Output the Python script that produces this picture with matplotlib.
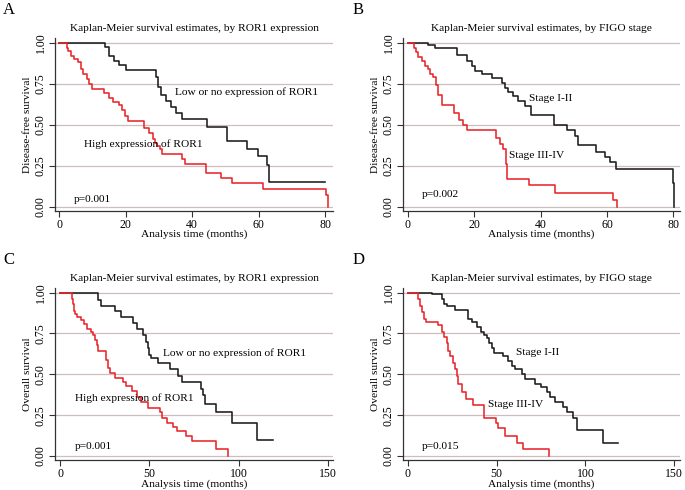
import matplotlib
matplotlib.use("Agg")
import matplotlib.pyplot as plt

plt.rcParams["font.family"] = ["Liberation Serif", "DejaVu Serif"]

# ---- data (Kaplan-Meier step points: time in months, survival) ----
# A: disease-free survival by ROR1 expression
a_low_t = [0, 13.9, 15.0, 16.5, 18.0, 20.0, 29.2, 29.8, 30.5, 32.0, 33.5, 35.0, 36.8, 44.4, 50.6, 56.4, 59.9, 62.5, 63.2, 80.0]
a_low_s = [1.0, 0.975, 0.92, 0.89, 0.865, 0.833, 0.793, 0.728, 0.681, 0.644, 0.606, 0.569, 0.533, 0.484, 0.398, 0.353, 0.306, 0.255, 0.153, 0.153]
a_high_t = [0, 2.2, 2.7, 3.4, 4.4, 5.7, 6.5, 7.2, 8.2, 9.0, 9.8, 13.5, 15.0, 16.3, 18.0, 18.8, 19.8, 20.6, 25.6,
            27.0, 28.1, 28.8, 29.5, 30.3, 31.0, 37.0, 37.8, 44.1, 48.6, 51.9, 61.4, 80.3, 80.8]
a_high_s = [1.0, 0.97, 0.95, 0.92, 0.90, 0.88, 0.84, 0.81, 0.78, 0.75, 0.72, 0.69, 0.66, 0.64, 0.62, 0.59, 0.55, 0.52, 0.48,
            0.45, 0.41, 0.39, 0.37, 0.35, 0.32, 0.29, 0.26, 0.205, 0.175, 0.144, 0.11, 0.073, 0.0]

# B: disease-free survival by FIGO stage
b_early_t = [0, 6.2, 8.2, 14.8, 17.8, 19.3, 20.3, 22.3, 25.3, 28.3, 29.3, 30.3, 31.8, 33.3, 35.3, 37.0,
             44.1, 48.1, 50.4, 51.4, 56.6, 59.4, 61.0, 62.7, 80.0, 80.3]
b_early_s = [1.0, 0.985, 0.967, 0.927, 0.886, 0.855, 0.825, 0.81, 0.784, 0.754, 0.723, 0.699, 0.672, 0.642, 0.611, 0.56,
             0.495, 0.468, 0.428, 0.373, 0.336, 0.305, 0.275, 0.228, 0.143, 0.0]
b_late_t = [0, 1.9, 2.5, 3.2, 4.2, 5.2, 6.0, 6.7, 7.7, 8.4, 9.2, 10.2, 14.0, 15.3, 16.6, 18.0, 19.8,
            26.6, 27.8, 28.8, 29.6, 30.0, 36.6, 44.4, 61.9, 63.0]
b_late_s = [1.0, 0.97, 0.94, 0.91, 0.89, 0.86, 0.84, 0.81, 0.79, 0.74, 0.68, 0.62, 0.57, 0.53, 0.50, 0.465, 0.465,
            0.42, 0.38, 0.35, 0.26, 0.17, 0.13, 0.085, 0.04, 0.0]

# C: overall survival by ROR1 expression
c_low_t = [0, 21.5, 23.0, 31.0, 34.0, 41.0, 43.0, 46.5, 48.0, 49.0, 50.0, 51.0, 55.0, 61.5, 66.0, 68.0,
           79.0, 80.0, 81.0, 87.0, 96.0, 110.0, 119.0]
c_low_s = [1.0, 0.955, 0.92, 0.885, 0.85, 0.815, 0.78, 0.74, 0.70, 0.66, 0.62, 0.60, 0.57, 0.53, 0.49, 0.454,
           0.413, 0.373, 0.32, 0.271, 0.20, 0.098, 0.098]
c_high_t = [0, 6.5, 7.5, 8.0, 8.6, 9.7, 11.7, 13.6, 15.3, 17.1, 18.6, 19.6, 20.5, 21.4, 25.7, 26.6, 27.9, 30.7,
            35.0, 36.9, 40.1, 42.9, 45.0, 49.4, 55.9, 56.8, 59.6, 63.4, 65.2, 70.2, 73.6, 87.0, 93.7]
c_high_s = [1.0, 0.96, 0.93, 0.89, 0.87, 0.85, 0.83, 0.81, 0.78, 0.76, 0.74, 0.71, 0.68, 0.64, 0.59, 0.54, 0.505, 0.48,
            0.455, 0.43, 0.40, 0.36, 0.33, 0.295, 0.27, 0.23, 0.20, 0.175, 0.15, 0.12, 0.09, 0.045, 0.0]

# D: overall survival by FIGO stage
d_early_t = [0, 13.5, 19.1, 20.5, 21.9, 26.6, 34.1, 36.0, 38.8, 41.0, 43.1, 44.5, 46.0, 47.5, 48.5, 53.8, 56.5,
             58.5, 60.5, 64.1, 66.0, 71.6, 75.0, 78.2, 80.0, 82.8, 87.5, 89.4, 93.1, 95.0, 110.0, 118.4]
d_early_s = [1.0, 0.99, 0.96, 0.93, 0.915, 0.895, 0.84, 0.82, 0.79, 0.76, 0.74, 0.72, 0.69, 0.66, 0.63, 0.61, 0.58,
             0.55, 0.53, 0.50, 0.47, 0.44, 0.42, 0.39, 0.36, 0.33, 0.30, 0.27, 0.23, 0.16, 0.08, 0.08]
d_late_t = [0, 6.0, 7.0, 8.0, 9.0, 10.5, 17.2, 19.1, 20.6, 21.9, 22.8, 23.8, 25.7, 26.6, 27.5, 28.5, 30.4, 32.6,
            36.9, 43.0, 49.5, 51.0, 54.7, 61.3, 65.0, 79.5]
d_late_s = [1.0, 0.96, 0.92, 0.88, 0.84, 0.82, 0.80, 0.76, 0.73, 0.69, 0.64, 0.61, 0.57, 0.53, 0.49, 0.44, 0.39, 0.35,
            0.31, 0.23, 0.20, 0.17, 0.12, 0.08, 0.045, 0.0]

y_ticks = [0.0, 0.25, 0.5, 0.75, 1.0]
y_ticklabels = ["0.00", "0.25", "0.50", "0.75", "1.00"]

W, H = 685, 490
RED = "#e8262b"
BLACK = "#1c1c1c"
GRID = "#cdbdbd"
FS = 8.2
TFS = 8.5

fig = plt.figure(figsize=(W / 100, H / 100), dpi=100)


def make_axes(l, r, t, b):
    return fig.add_axes([l / W, 1 - b / H, (r - l) / W, (b - t) / H])


def draw_panel(ax, title, ylabel, xlim, xticks, curves, notes, pval):
    for y in y_ticks:
        ax.axhline(y, color=GRID, lw=0.9, zorder=1)
    for (t, s, c) in curves:
        ax.step(t, s, where="post", color=c, lw=1.15, zorder=3)
    ax.set_xlim(*xlim)
    ax.set_ylim(-0.0244, 1.028)
    ax.set_xticks(xticks)
    ax.set_xticklabels([str(v) for v in xticks], fontsize=TFS)
    ax.set_yticks(y_ticks)
    ax.set_yticklabels(y_ticklabels, fontsize=TFS, rotation=90, va="center")
    for s in ["top", "right"]:
        ax.spines[s].set_visible(False)
    for s in ["left", "bottom"]:
        ax.spines[s].set_color("#333333")
        ax.spines[s].set_linewidth(0.9)
    ax.tick_params(length=4, width=0.8, color="#333333", pad=2)
    ax.set_xlabel("Analysis time (months)", fontsize=FS, labelpad=-1)
    ax.set_ylabel(ylabel, fontsize=FS, labelpad=2)
    ax.set_title(title, fontsize=FS, pad=5)
    for (x, y, txt) in notes:
        ax.text(x, y, txt, fontsize=FS, va="center", ha="left", zorder=4)
    ax.text(pval[0], pval[1], pval[2], fontsize=FS, va="center", ha="left")


axA = make_axes(55, 333, 38, 210.7)
draw_panel(axA, "Kaplan-Meier survival estimates, by ROR1 expression", "Disease-free survival",
           (-1.3, 82.4), [0, 20, 40, 60, 80],
           [(a_low_t, a_low_s, BLACK), (a_high_t, a_high_s, RED)],
           [(34.8, 0.70, "Low or no expression of ROR1"), (7.5, 0.38, "High expression of ROR1")],
           (4.4, 0.045, "p=0.001"))

axB = make_axes(403.3, 680, 38, 210.7)
draw_panel(axB, "Kaplan-Meier survival estimates, by FIGO stage", "Disease-free survival",
           (-1.33, 82.0), [0, 20, 40, 60, 80],
           [(b_early_t, b_early_s, BLACK), (b_late_t, b_late_s, RED)],
           [(36.6, 0.657, "Stage I-II"), (30.6, 0.31, "Stage III-IV")],
           (4.2, 0.077, "p=0.002"))

axC = make_axes(55, 333, 288, 460)
draw_panel(axC, "Kaplan-Meier survival estimates, by ROR1 expression", "Overall survival",
           (-2.8, 152.6), [0, 50, 100, 150],
           [(c_low_t, c_low_s, BLACK), (c_high_t, c_high_s, RED)],
           [(57.8, 0.627, "Low or no expression of ROR1"), (8.4, 0.356, "High expression of ROR1")],
           (8.4, 0.061, "p=0.001"))

axD = make_axes(403.3, 680, 288, 460)
draw_panel(axD, "Kaplan-Meier survival estimates, by FIGO stage", "Overall survival",
           (-2.5, 153.2), [0, 50, 100, 150],
           [(d_early_t, d_early_s, BLACK), (d_late_t, d_late_s, RED)],
           [(60.9, 0.633, "Stage I-II"), (45.0, 0.316, "Stage III-IV")],
           (7.9, 0.061, "p=0.015"))

# panel letters
for letter, x, y in [("A", 3, 10), ("B", 353, 10), ("C", 3, 260), ("D", 353, 260)]:
    fig.text(x / W, 1 - y / H, letter, fontsize=12, va="center", ha="left")

fig.savefig("out.png", dpi=100, facecolor="white")
